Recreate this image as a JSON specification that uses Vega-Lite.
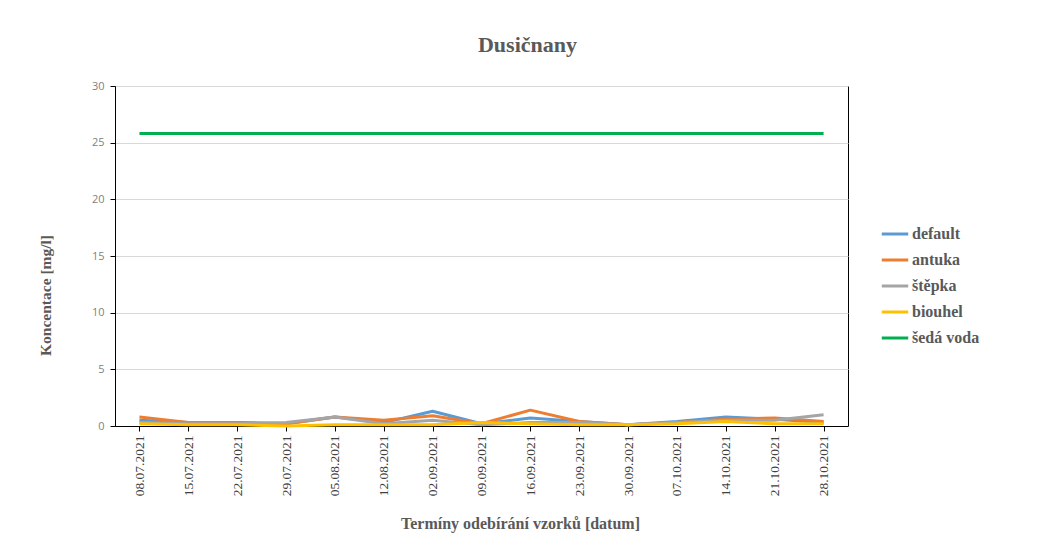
{
  "$schema": "https://vega.github.io/schema/vega-lite/v6.json",
  "width": 733,
  "height": 340,
  "autosize": {"type": "none"},
  "padding": {"left": 115, "top": 86, "right": 214, "bottom": 116},
  "background": "white",
  "title": {
    "text": "Dusičnany",
    "font": "Liberation Serif",
    "fontSize": 22,
    "fontWeight": "bold",
    "color": "#595959",
    "anchor": "middle",
    "dx": 46,
    "offset": 23
  },
  "config": {
    "view": {"stroke": "#000000", "strokeWidth": 1}
  },
  "data": {
    "values": [
      {"date": "08.07.2021", "series": "default", "value": 0.5},
      {"date": "15.07.2021", "series": "default", "value": 0.3},
      {"date": "22.07.2021", "series": "default", "value": 0.3},
      {"date": "29.07.2021", "series": "default", "value": 0.2},
      {"date": "05.08.2021", "series": "default", "value": 0.8},
      {"date": "12.08.2021", "series": "default", "value": 0.3},
      {"date": "02.09.2021", "series": "default", "value": 1.3},
      {"date": "09.09.2021", "series": "default", "value": 0.2},
      {"date": "16.09.2021", "series": "default", "value": 0.7},
      {"date": "23.09.2021", "series": "default", "value": 0.4},
      {"date": "30.09.2021", "series": "default", "value": 0.1},
      {"date": "07.10.2021", "series": "default", "value": 0.4},
      {"date": "14.10.2021", "series": "default", "value": 0.8},
      {"date": "21.10.2021", "series": "default", "value": 0.6},
      {"date": "28.10.2021", "series": "default", "value": 0.3},
      {"date": "08.07.2021", "series": "antuka", "value": 0.8},
      {"date": "15.07.2021", "series": "antuka", "value": 0.3},
      {"date": "22.07.2021", "series": "antuka", "value": 0.3},
      {"date": "29.07.2021", "series": "antuka", "value": 0.2},
      {"date": "05.08.2021", "series": "antuka", "value": 0.8},
      {"date": "12.08.2021", "series": "antuka", "value": 0.5},
      {"date": "02.09.2021", "series": "antuka", "value": 0.9},
      {"date": "09.09.2021", "series": "antuka", "value": 0.2},
      {"date": "16.09.2021", "series": "antuka", "value": 1.4},
      {"date": "23.09.2021", "series": "antuka", "value": 0.4},
      {"date": "30.09.2021", "series": "antuka", "value": 0.1},
      {"date": "07.10.2021", "series": "antuka", "value": 0.3},
      {"date": "14.10.2021", "series": "antuka", "value": 0.6},
      {"date": "21.10.2021", "series": "antuka", "value": 0.7},
      {"date": "28.10.2021", "series": "antuka", "value": 0.4},
      {"date": "08.07.2021", "series": "štěpka", "value": 0.3},
      {"date": "15.07.2021", "series": "štěpka", "value": 0.2},
      {"date": "22.07.2021", "series": "štěpka", "value": 0.2},
      {"date": "29.07.2021", "series": "štěpka", "value": 0.3},
      {"date": "05.08.2021", "series": "štěpka", "value": 0.8},
      {"date": "12.08.2021", "series": "štěpka", "value": 0.2},
      {"date": "02.09.2021", "series": "štěpka", "value": 0.5},
      {"date": "09.09.2021", "series": "štěpka", "value": 0.1},
      {"date": "16.09.2021", "series": "štěpka", "value": 0.3},
      {"date": "23.09.2021", "series": "štěpka", "value": 0.3},
      {"date": "30.09.2021", "series": "štěpka", "value": 0.1},
      {"date": "07.10.2021", "series": "štěpka", "value": 0.3},
      {"date": "14.10.2021", "series": "štěpka", "value": 0.5},
      {"date": "21.10.2021", "series": "štěpka", "value": 0.5},
      {"date": "28.10.2021", "series": "štěpka", "value": 1.0},
      {"date": "08.07.2021", "series": "biouhel", "value": 0.2},
      {"date": "15.07.2021", "series": "biouhel", "value": 0.1},
      {"date": "22.07.2021", "series": "biouhel", "value": 0.1},
      {"date": "29.07.2021", "series": "biouhel", "value": 0.0},
      {"date": "05.08.2021", "series": "biouhel", "value": 0.1},
      {"date": "12.08.2021", "series": "biouhel", "value": 0.1},
      {"date": "02.09.2021", "series": "biouhel", "value": 0.1},
      {"date": "09.09.2021", "series": "biouhel", "value": 0.3},
      {"date": "16.09.2021", "series": "biouhel", "value": 0.2},
      {"date": "23.09.2021", "series": "biouhel", "value": 0.1},
      {"date": "30.09.2021", "series": "biouhel", "value": 0.1},
      {"date": "07.10.2021", "series": "biouhel", "value": 0.2},
      {"date": "14.10.2021", "series": "biouhel", "value": 0.4},
      {"date": "21.10.2021", "series": "biouhel", "value": 0.2},
      {"date": "28.10.2021", "series": "biouhel", "value": 0.2},
      {"date": "08.07.2021", "series": "šedá voda", "value": 25.8},
      {"date": "15.07.2021", "series": "šedá voda", "value": 25.8},
      {"date": "22.07.2021", "series": "šedá voda", "value": 25.8},
      {"date": "29.07.2021", "series": "šedá voda", "value": 25.8},
      {"date": "05.08.2021", "series": "šedá voda", "value": 25.8},
      {"date": "12.08.2021", "series": "šedá voda", "value": 25.8},
      {"date": "02.09.2021", "series": "šedá voda", "value": 25.8},
      {"date": "09.09.2021", "series": "šedá voda", "value": 25.8},
      {"date": "16.09.2021", "series": "šedá voda", "value": 25.8},
      {"date": "23.09.2021", "series": "šedá voda", "value": 25.8},
      {"date": "30.09.2021", "series": "šedá voda", "value": 25.8},
      {"date": "07.10.2021", "series": "šedá voda", "value": 25.8},
      {"date": "14.10.2021", "series": "šedá voda", "value": 25.8},
      {"date": "21.10.2021", "series": "šedá voda", "value": 25.8},
      {"date": "28.10.2021", "series": "šedá voda", "value": 25.8}
    ]
  },
  "mark": {"type": "line", "strokeWidth": 3, "strokeCap": "butt", "strokeJoin": "round"},
  "encoding": {
    "x": {
      "field": "date",
      "type": "ordinal",
      "sort": null,
      "scale": {"type": "point", "padding": 0.5},
      "axis": {
        "title": "Termíny odebírání vzorků [datum]",
        "titleFont": "Liberation Serif",
        "titleFontSize": 16,
        "titleFontWeight": "bold",
        "titleColor": "#595959",
        "titleX": 405,
        "titleY": 97,
        "titleBaseline": "middle",
        "titleAlign": "center",
        "labelAngle": -90,
        "labelAlign": "right",
        "labelBaseline": "middle",
        "labelFont": "Liberation Serif",
        "labelFontSize": 13.5,
        "labelColor": "#404040",
        "labelPadding": 4,
        "domainColor": "#000000",
        "tickColor": "#000000",
        "tickSize": 5,
        "grid": false
      }
    },
    "y": {
      "field": "value",
      "type": "quantitative",
      "scale": {"domain": [0, 30]},
      "axis": {
        "title": "Koncentace [mg/l]",
        "titleFont": "Liberation Serif",
        "titleFontSize": 15.5,
        "titleFontWeight": "bold",
        "titleColor": "#595959",
        "titleX": -70,
        "titleY": 209,
        "titleAngle": -90,
        "titleAlign": "center",
        "titleBaseline": "middle",
        "values": [0, 5, 10, 15, 20, 25, 30],
        "labelFont": "Open Sans",
        "labelFontSize": 11,
        "labelColor": "#7f7f7f",
        "labelPadding": 6,
        "domainColor": "#000000",
        "tickColor": "#000000",
        "tickSize": 5,
        "grid": true,
        "gridColor": "#d9d9d9"
      }
    },
    "color": {
      "field": "series",
      "type": "nominal",
      "sort": ["default", "antuka", "štěpka", "biouhel", "šedá voda"],
      "scale": {
        "domain": ["default", "antuka", "štěpka", "biouhel", "šedá voda"],
        "range": ["#5B9BD5", "#ED7D31", "#A5A5A5", "#FFC000", "#00B050"]
      },
      "legend": {
        "title": null,
        "orient": "none",
        "legendX": 765,
        "legendY": 133,
        "symbolType": "stroke",
        "symbolSize": 700,
        "symbolStrokeWidth": 3,
        "labelFont": "Liberation Serif",
        "labelFontSize": 16,
        "labelFontWeight": "bold",
        "labelColor": "#595959",
        "labelOffset": 2,
        "rowPadding": 3
      }
    }
  }
}
